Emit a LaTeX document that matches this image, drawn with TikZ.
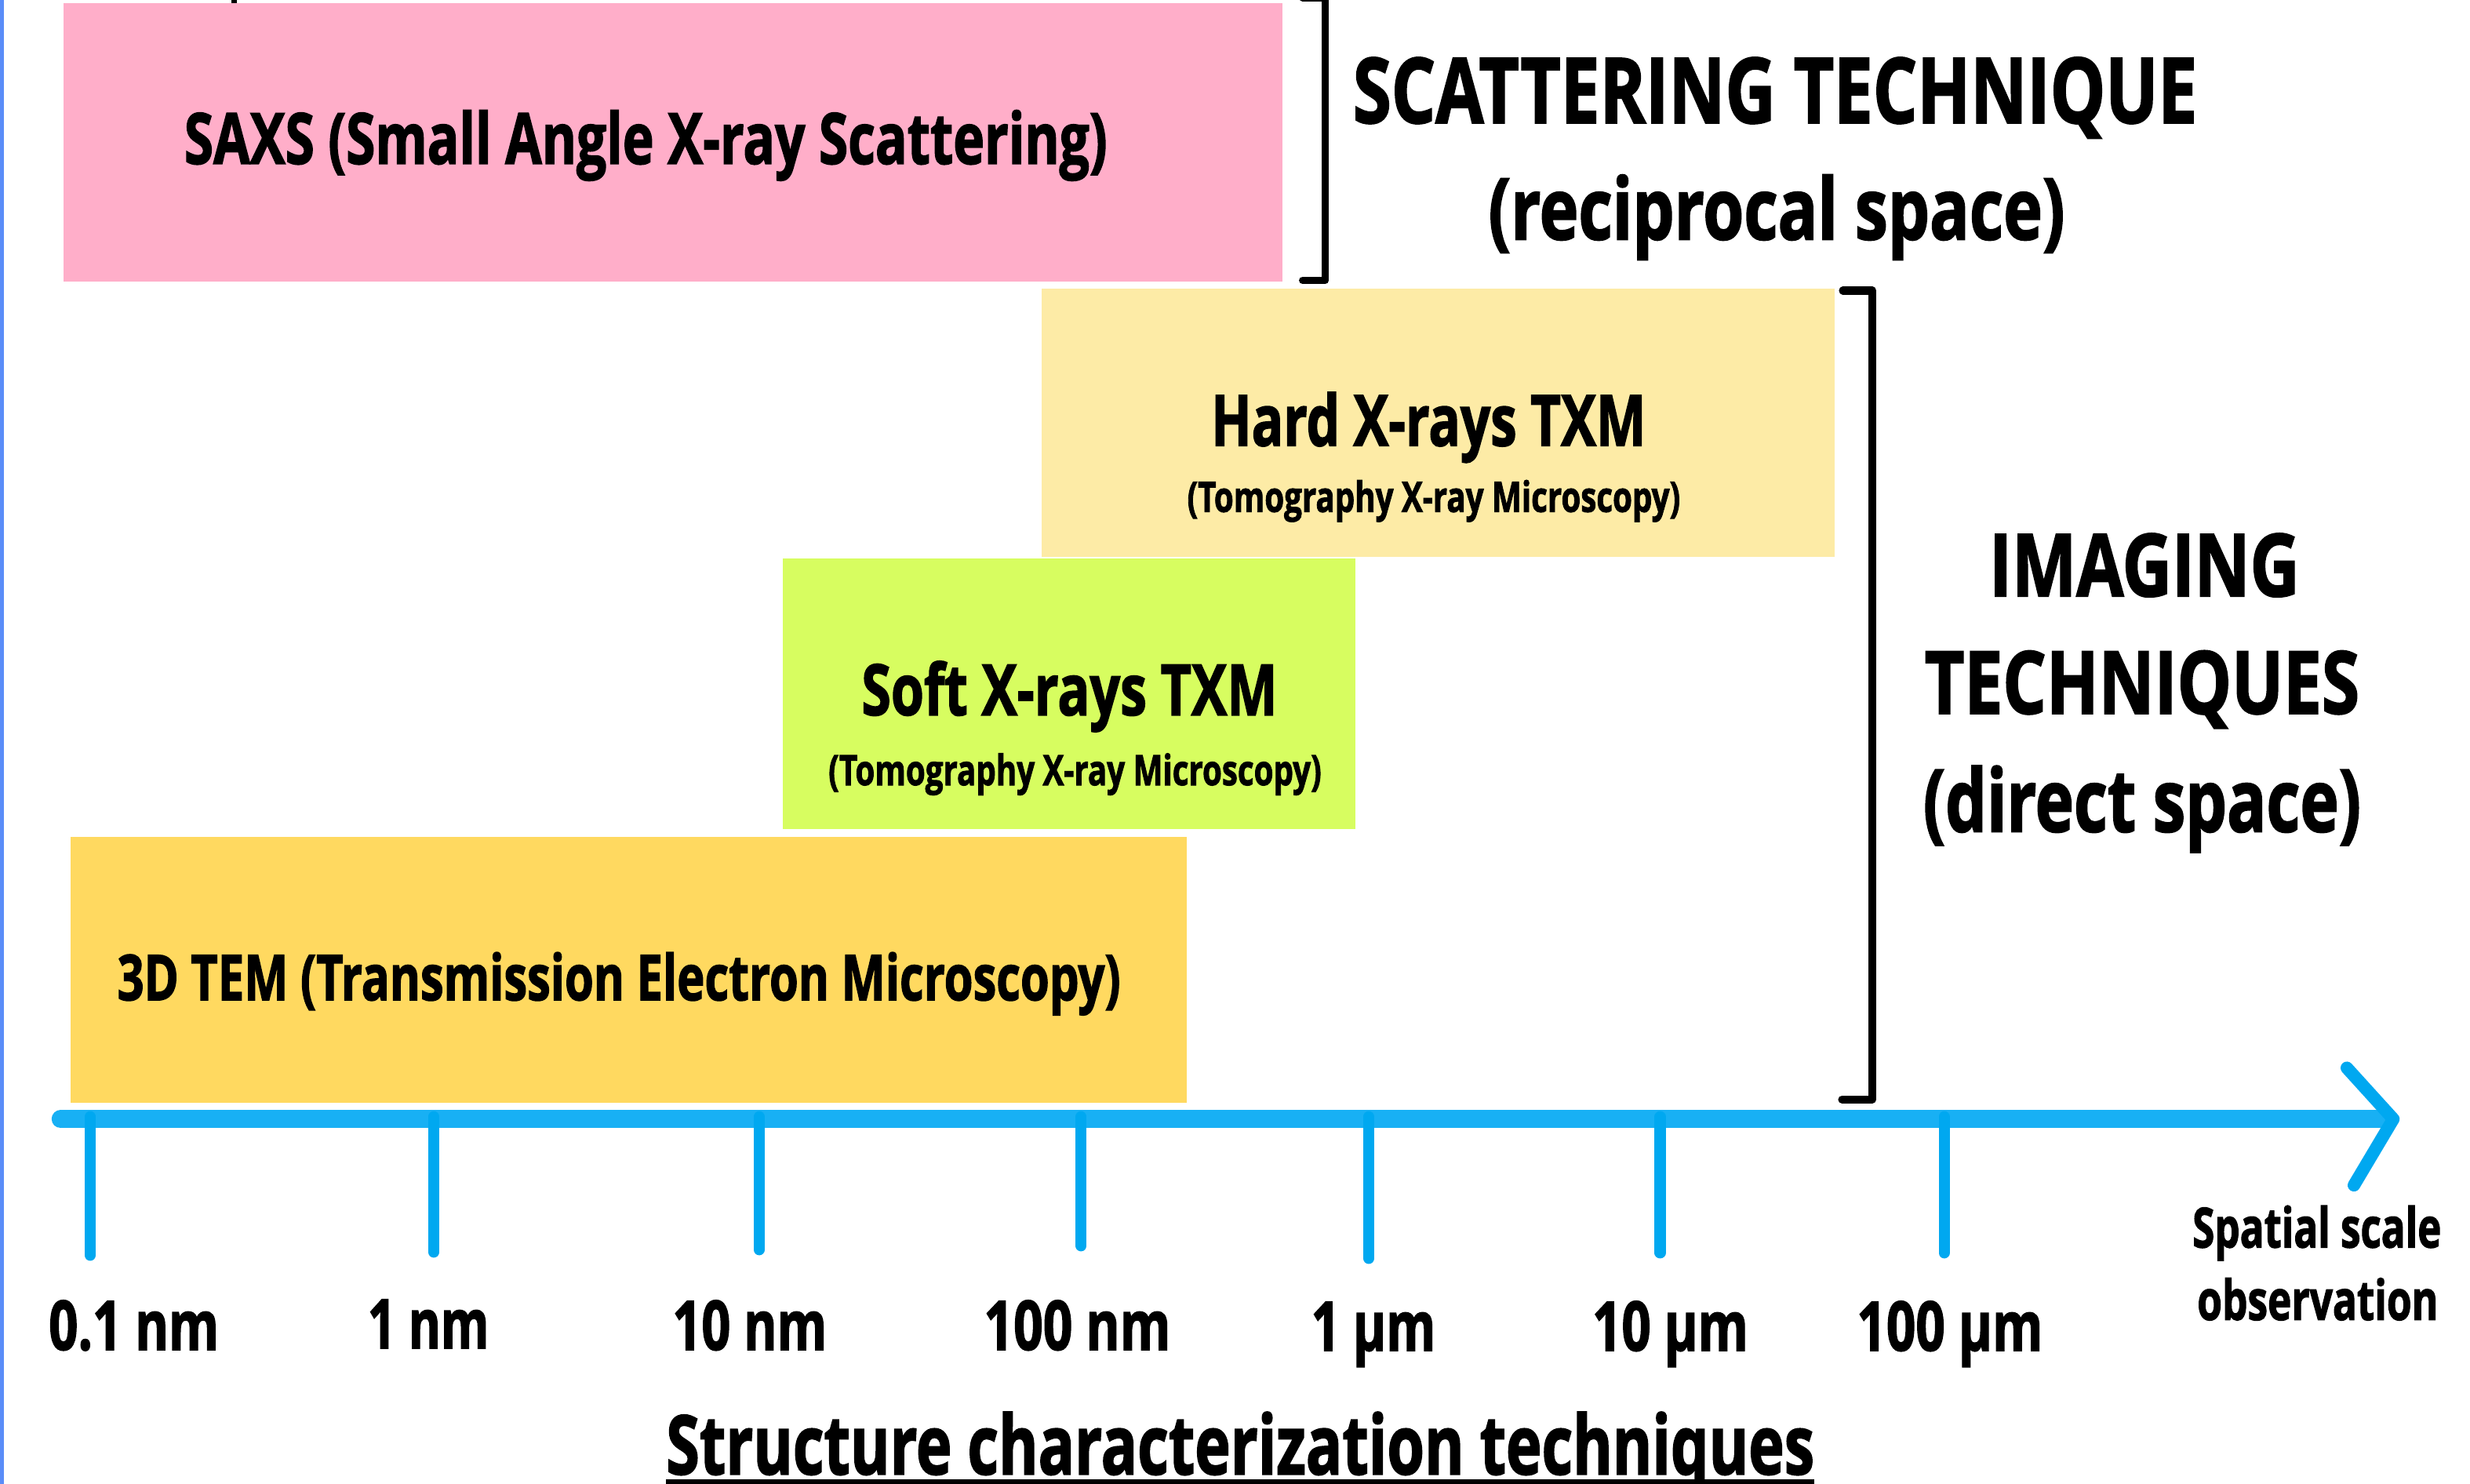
\documentclass[tikz,border=0pt]{standalone}
\usepackage{fontspec}
\usepackage{graphicx}
\setmainfont{Open Sans}[BoldFeatures={FakeBold=2}]
\definecolor{edgeblue}{HTML}{5A8DF8}
\definecolor{saxspink}{HTML}{FFAEC9}
\definecolor{hardyellow}{HTML}{FDEBA6}
\definecolor{softlime}{HTML}{D7FD60}
\definecolor{temgold}{HTML}{FFD960}
\definecolor{axisblue}{HTML}{18B0F4}
\definecolor{tickblue}{HTML}{00A8F0}
\newcommand{\fitw}[3]{\resizebox{#1pt}{\height}{\fontsize{#2pt}{#2pt}\selectfont\bfseries #3}}
\tikzset{
  techbox/.style={draw=none, inner sep=0pt, outer sep=0pt, anchor=north west},
  lbl/.style={inner sep=0pt, outer sep=0pt, anchor=base, text=black},
  bracketline/.style={draw=black, line width=4.6pt, line cap=round, line join=round},
  axisline/.style={draw=axisblue, line width=11.5pt, line cap=round},
  tickline/.style={draw=tickblue, line width=7pt, line cap=round},
  chevron/.style={draw=tickblue, line width=8pt, line cap=round, line join=round}
}
\begin{document}
\begin{tikzpicture}[x=1pt,y=-1pt]
\useasboundingbox (0,0) rectangle (1568.2,942.2);
\fill[white] (0,0) rectangle (1568.2,942.2);
\fill[edgeblue] (0,0) rectangle (2.5,942.2);
\fill[black] (147,0) rectangle (150.5,3.3);

% technique boxes
\node[techbox, fill=saxspink, minimum width=773.6pt, minimum height=176.8pt] (saxs) at (40.4,2) {};
\node[techbox, fill=hardyellow, minimum width=503.5pt, minimum height=170.1pt] (hard) at (661.5,183.3) {};
\node[techbox, fill=softlime, minimum width=363.7pt, minimum height=171.8pt] (soft) at (497,354.5) {};
\node[techbox, fill=temgold, minimum width=708.7pt, minimum height=168.8pt] (tem) at (44.7,531.2) {};

% box texts
\node[lbl] (saxst) at (410,104) {\fitw{586}{44.8}{SAXS (Small Angle X-ray Scattering)}};
\node[lbl] (hardt) at (907,283) {\fitw{276}{44.8}{Hard X-rays TXM}};
\node[lbl] (hards) at (910.3,325) {\fitw{313}{26.6}{(Tomography X-ray Microscopy)}};
\node[lbl] (softt) at (679,454) {\fitw{264}{44.8}{Soft X-rays TXM}};
\node[lbl] (softs) at (682.5,498.5) {\fitw{313}{26.6}{(Tomography X-ray Microscopy)}};
\node[lbl] (temt) at (393,635) {\fitw{637}{40}{3D TEM (Transmission Electron Microscopy)}};

% brackets
\coordinate (b1a) at (827,-1.5);
\coordinate (b1b) at (841.5,-1.5);
\coordinate (b1c) at (841.5,178);
\coordinate (b1d) at (827,178);
\draw[bracketline] (b1a) -- (b1b) -- (b1c) -- (b1d);
\coordinate (b2a) at (1170,184.5);
\coordinate (b2b) at (1188.7,184.5);
\coordinate (b2c) at (1188.7,698);
\coordinate (b2d) at (1169.5,698);
\draw[bracketline, line width=5pt] (b2a) -- (b2b) -- (b2c) -- (b2d);

% right-hand titles
\node[lbl] (scat1) at (1127,78) {\fitw{536}{57.4}{SCATTERING TECHNIQUE}};
\node[lbl] (scat2) at (1128,152) {\fitw{366}{54}{(reciprocal space)}};
\node[lbl] (img1) at (1361.5,378.5) {\fitw{197}{55}{IMAGING}};
\node[lbl] (img2) at (1360,453) {\fitw{276}{55}{TECHNIQUES}};
\node[lbl] (img3) at (1360,528) {\fitw{278}{55}{(direct space)}};

% axis
\coordinate (axL) at (38.5,710.5);
\coordinate (axR) at (1516,710.5);
\draw[axisline] (axL) -- (axR);
\coordinate (chA) at (1490,678);
\coordinate (chT) at (1519.5,710.5);
\coordinate (chB) at (1494.5,752.5);
\draw[chevron] (chA) -- (chT) -- (chB);

% ticks
\foreach \tx/\tb [count=\i] in {57.3/797, 275.4/795, 482/793.5, 686.4/791, 869/799, 1054/795.5, 1234.3/795.5}{
  \coordinate (tt\i) at (\tx,709);
  \coordinate (tb\i) at (\tx,\tb);
  \draw[tickline] (tt\i) -- (tb\i);
}

% tick labels
\node[lbl] (l1) at (85,857) {\fitw{108}{43.4}{0.1 nm}};
\node[lbl] (l2) at (272,856) {\fitw{77}{43.4}{1 nm}};
\node[lbl] (l3) at (476,857) {\fitw{98}{43.4}{10 nm}};
\node[lbl] (l4) at (684,857) {\fitw{118.5}{43.4}{100 nm}};
\node[lbl] (l5) at (872,857.5) {\fitw{79}{43.4}{1 µm}};
\node[lbl] (l6) at (1060.5,857.5) {\fitw{99}{43.4}{10 µm}};
\node[lbl] (l7) at (1238,857.5) {\fitw{118}{43.4}{100 µm}};

\node[lbl] (sp1) at (1471,792) {\fitw{158}{35}{Spatial scale}};
\node[lbl] (sp2) at (1471.5,838) {\fitw{153}{35}{observation}};

% bottom title
\node[lbl] (title) at (787.5,936) {\fitw{729}{52}{Structure characterization techniques}};
\fill[black] (423,939.4) rectangle (1152,942.2);
\end{tikzpicture}
\end{document}
